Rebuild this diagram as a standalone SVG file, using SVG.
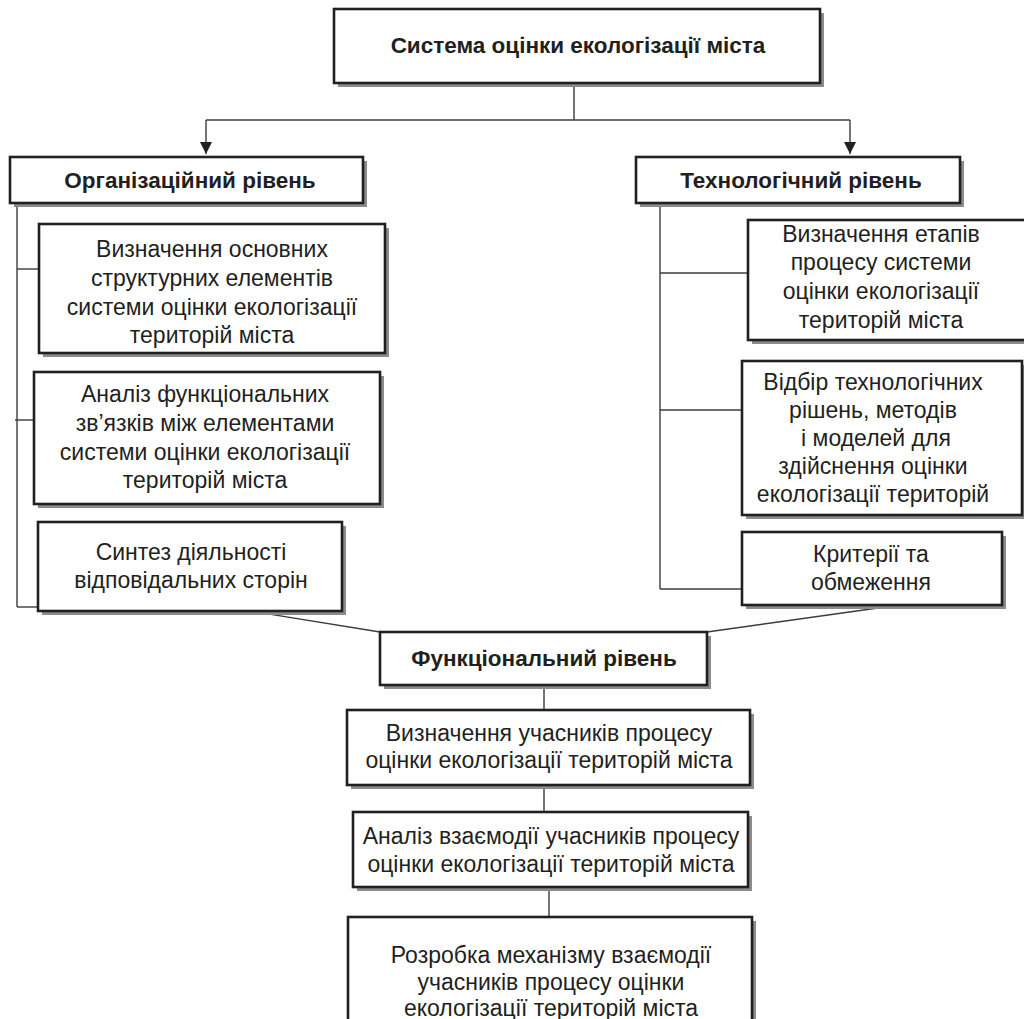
<svg xmlns="http://www.w3.org/2000/svg" width="1024" height="1019" viewBox="0 0 1024 1019">
<defs>
<style>
.box{fill:#fff;stroke:#231f20;stroke-width:2.6}
.sh{fill:#8c8c8c}
.c{stroke:#3c3c3c;stroke-width:1.4;fill:none}
.t{font-family:"Liberation Sans",Arial,sans-serif;font-size:23px;fill:#231f20;text-anchor:middle}
.b{font-weight:bold;font-size:22.5px}
</style>
<marker id="arr" viewBox="0 0 12 12" markerWidth="12" markerHeight="12" refX="12" refY="6" orient="auto" markerUnits="userSpaceOnUse">
<path d="M0,0 L12,6 L0,12 z" fill="#231f20"/>
</marker>
</defs>
<rect width="1024" height="1019" fill="#fff"/>
<g id="connectors">
<line class="c" x1="574" y1="83" x2="574" y2="120"/>
<line class="c" x1="206" y1="120" x2="850" y2="120"/>
<line class="c" x1="206" y1="120" x2="206" y2="154" marker-end="url(#arr)"/>
<line class="c" x1="850" y1="120" x2="850" y2="154" marker-end="url(#arr)"/>
<line class="c" x1="17" y1="203" x2="17" y2="607"/>
<line class="c" x1="17" y1="269" x2="39" y2="269"/>
<line class="c" x1="15" y1="420" x2="34" y2="420"/>
<line class="c" x1="17" y1="607" x2="38" y2="607"/>
<line class="c" x1="660" y1="203" x2="660" y2="589"/>
<line class="c" x1="660" y1="273" x2="748" y2="273"/>
<line class="c" x1="660" y1="410" x2="742" y2="410"/>
<line class="c" x1="660" y1="589" x2="742" y2="589"/>
<line class="c" x1="250" y1="611" x2="380" y2="632"/>
<line class="c" x1="878" y1="608" x2="707" y2="632"/>
<line class="c" x1="544" y1="685" x2="544" y2="710"/>
<line class="c" x1="544" y1="785" x2="544" y2="812"/>
<line class="c" x1="549" y1="887" x2="549" y2="917"/>
</g>
<g id="title">
<rect class="sh" x="338" y="13" width="486" height="74"/>
<rect class="box" x="334" y="9" width="486" height="74"/>
<text class="t b" x="578" y="53">Система оцінки екологізації міста</text>
</g>
<g id="org">
<rect class="sh" x="14" y="161" width="353" height="46"/>
<rect class="box" x="10" y="157" width="353" height="46"/>
<text class="t b" x="190" y="188">Організаційний рівень</text>
</g>
<g id="org1">
<rect class="sh" x="43" y="228" width="346" height="129"/>
<rect class="box" x="39" y="224" width="346" height="129"/>
<text class="t" x="212" y="257">Визначення основних</text>
<text class="t" x="212" y="286">структурних елементів</text>
<text class="t" x="212" y="315">системи оцінки екологізації</text>
<text class="t" x="212" y="343">територій міста</text>
</g>
<g id="org2">
<rect class="sh" x="38" y="376" width="346" height="132"/>
<rect class="box" x="34" y="372" width="346" height="132"/>
<text class="t" x="205" y="402">Аналіз функціональних</text>
<text class="t" x="205" y="431">зв’язків між елементами</text>
<text class="t" x="205" y="460">системи оцінки екологізації</text>
<text class="t" x="205" y="488">територій міста</text>
</g>
<g id="org3">
<rect class="sh" x="42" y="526" width="304" height="89"/>
<rect class="box" x="38" y="522" width="304" height="89"/>
<text class="t" x="191" y="560">Синтез діяльності</text>
<text class="t" x="191" y="588">відповідальних сторін</text>
</g>
<g id="tech">
<rect class="sh" x="640" y="161" width="324" height="46"/>
<rect class="box" x="636" y="157" width="324" height="46"/>
<text class="t b" x="801" y="188">Технологічний рівень</text>
</g>
<g id="tech1">
<rect class="sh" x="752" y="224" width="290" height="120"/>
<rect class="box" x="748" y="220" width="290" height="120"/>
<text class="t" x="881" y="242">Визначення етапів</text>
<text class="t" x="881" y="270">процесу системи</text>
<text class="t" x="881" y="299">оцінки екологізації</text>
<text class="t" x="881" y="328">територій міста</text>
</g>
<g id="tech2">
<rect class="sh" x="746" y="365" width="280" height="154"/>
<rect class="box" x="742" y="361" width="280" height="154"/>
<text class="t" x="873" y="390">Відбір технологічних</text>
<text class="t" x="873" y="418">рішень, методів</text>
<text class="t" x="876" y="446">і моделей для</text>
<text class="t" x="873" y="474">здійснення оцінки</text>
<text class="t" x="873" y="502">екологізації територій</text>
</g>
<g id="tech3">
<rect class="sh" x="746" y="536" width="260" height="73"/>
<rect class="box" x="742" y="532" width="260" height="73"/>
<text class="t" x="871" y="562">Критерії та</text>
<text class="t" x="871" y="590">обмеження</text>
</g>
<g id="func">
<rect class="sh" x="384" y="636" width="327" height="53"/>
<rect class="box" x="380" y="632" width="327" height="53"/>
<text class="t b" x="544" y="666">Функціональний рівень</text>
</g>
<g id="func1">
<rect class="sh" x="351" y="714" width="403" height="75"/>
<rect class="box" x="347" y="710" width="403" height="75"/>
<text class="t" x="549" y="741">Визначення учасників процесу</text>
<text class="t" x="549" y="768">оцінки екологізації територій міста</text>
</g>
<g id="func2">
<rect class="sh" x="357" y="816" width="395" height="75"/>
<rect class="box" x="353" y="812" width="395" height="75"/>
<text class="t" x="551" y="844">Аналіз взаємодії учасників процесу</text>
<text class="t" x="551" y="872">оцінки екологізації територій міста</text>
</g>
<g id="func3">
<rect class="sh" x="352" y="921" width="404" height="120"/>
<rect class="box" x="348" y="917" width="404" height="120"/>
<text class="t" x="551" y="963">Розробка механізму взаємодії</text>
<text class="t" x="551" y="990">учасників процесу оцінки</text>
<text class="t" x="551" y="1016">екологізації територій міста</text>
</g>
</svg>
